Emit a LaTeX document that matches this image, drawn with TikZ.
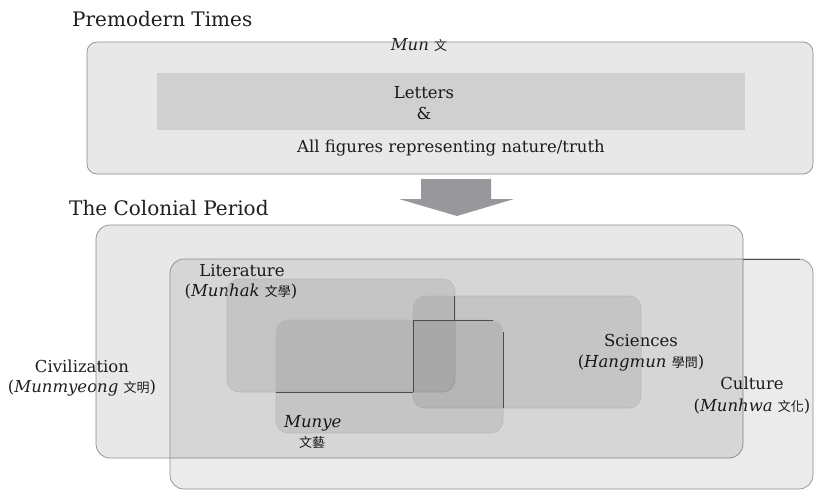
\documentclass[tikz,border=0pt]{standalone}
\usepackage{fontspec}
\setmainfont{DejaVu Serif}
\newfontfamily\cjk{Noto Sans CJK TC}
\newcommand{\hanjatext}[1]{{\cjk\fontsize{13}{15}\selectfont #1}}
\definecolor{arrowgray}{HTML}{98989C}

\begin{document}
\begin{tikzpicture}[x=1pt,y=1pt,
  lbl/.style={anchor=base, inner sep=0pt, font=\fontsize{16.5}{19}\selectfont, text=black!88},
  period/.style={anchor=base west, inner sep=0pt, font=\fontsize{20}{23}\selectfont, text=black!88},
  area/.style={rounded corners=14pt, fill=black, fill opacity=0.09, draw=black!45, line width=0.7pt},
  field/.style={rounded corners=12pt, fill=black, fill opacity=0.08, draw=black!28, line width=0.6pt},
  seam/.style={draw=black!70, line width=0.5pt}]
\useasboundingbox (0,0) rectangle (814,-490);
% labels first, the boxes are laid over them
\node [period] (premodern) at (72,-26) {Premodern Times};
\node [period] (colonial) at (69,-215) {The Colonial Period};
\node [lbl] (mun) at (419,-50) {\textit{Mun} \hanjatext{文}};
\node [lbl] (letters) at (424,-98) {Letters};
\node [lbl] (amp) at (424,-119) {\&};
\node [lbl] (figures) at (451,-152) {All figures representing nature/truth};
\node [lbl] (civ) at (82,-372) {Civilization};
\node [lbl] (civ-kr) at (82,-392) {(\textit{Munmyeong} \hanjatext{文明})};
\node [lbl] (lit) at (242,-276) {Literature};
\node [lbl] (lit-kr) at (241,-296) {(\textit{Munhak} \hanjatext{文學})};
\node [lbl, anchor=base west] (munye) at (284,-427) {\textit{Munye}};
\node [lbl] (munye-kr) at (312,-447) {\hanjatext{文藝}};
\node [lbl] (sci) at (641,-346) {Sciences};
\node [lbl] (sci-kr) at (641,-367) {(\textit{Hangmun} \hanjatext{學問})};
\node [lbl] (cult) at (752,-389) {Culture};
\node [lbl] (cult-kr) at (752,-411) {(\textit{Munhwa} \hanjatext{文化})};
% premodern
\draw [area, rounded corners=10pt] (87,-42) rectangle (813,-174);
\fill [black, fill opacity=0.1] (157,-73) rectangle (745,-130);
% block arrow
\fill [arrowgray] (421,-179) -- (491,-179) -- (491,-199) -- (514,-199) -- (457,-216)
  -- (399,-199) -- (421,-199) -- cycle;
% colonial period
\draw [area] (96,-225) rectangle (743,-458);
\draw [area, fill opacity=0.08] (170,-259) rectangle (813,-489);
\draw [field] (227,-279) rectangle (455,-392);
\draw [field] (413,-296) rectangle (641,-408);
\draw [field] (276,-320) rectangle (503,-433);
% dark seams where the outlines cross
\draw [seam] (743,-259) -- (800,-259);
\draw [seam] (454,-296) -- (454,-320);
\draw [seam] (413,-320) -- (493,-320);
\draw [seam] (413,-320) -- (413,-392);
\draw [seam] (276,-392) -- (413,-392);
\draw [seam] (503,-332) -- (503,-408);
\end{tikzpicture}
\end{document}
